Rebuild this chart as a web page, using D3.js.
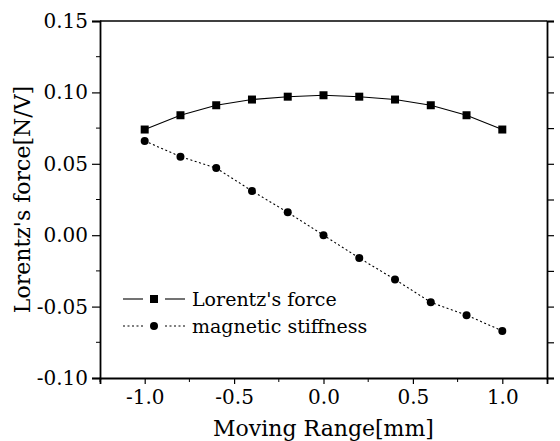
<!DOCTYPE html>
<html>
<head>
<meta charset="utf-8">
<script src="https://cdn.jsdelivr.net/npm/d3@7"></script>
<style>
  body { margin: 0; background: #fff; }
  svg text { font-family: "DejaVu Serif", serif; fill: #000; }
</style>
</head>
<body>
<div id="chart"></div>
<script>
// data
var positions = [-1.0, -0.8, -0.6, -0.4, -0.2, 0.0, 0.2, 0.4, 0.6, 0.8, 1.0];
var lorentzForce = [0.074, 0.084, 0.091, 0.095, 0.097, 0.098, 0.097, 0.095, 0.091, 0.084, 0.074];
var magneticStiffness = [0.066, 0.055, 0.047, 0.031, 0.016, 0.0, -0.016, -0.031, -0.047, -0.056, -0.067];
var xTicks = [-1.0, -0.5, 0.0, 0.5, 1.0];
var yTicks = [-0.10, -0.05, 0.00, 0.05, 0.10, 0.15];
var xMinor = [-1.25, -0.75, -0.25, 0.25, 0.75];
var yMinor = [-0.075, -0.025, 0.025, 0.075, 0.125];

var W = 560, H = 441;
var margin = { top: 21, right: 13, bottom: 63, left: 100 };
var serif = "'DejaVu Serif', serif";

var svg = d3.select("#chart").append("svg")
    .attr("width", W)
    .attr("height", H);

var x = d3.scaleLinear().domain([-1.25, 1.25]).range([margin.left, W - margin.right]);
var y = d3.scaleLinear().domain([-0.10, 0.15]).range([H - margin.bottom, margin.top]);

// bottom axis
var xAxis = svg.append("g")
    .attr("transform", "translate(0," + y(-0.10) + ")")
    .call(d3.axisBottom(x).tickValues(xTicks).tickSize(6).tickPadding(6)
        .tickFormat(function (d) { return d.toFixed(1); }));
xAxis.append("g").selectAll("line").data(xMinor).enter().append("line")
    .attr("x1", function (d) { return x(d); }).attr("x2", function (d) { return x(d); })
    .attr("y1", 0).attr("y2", 4).attr("stroke", "#000");

// left axis
var yAxis = svg.append("g")
    .attr("transform", "translate(" + x(-1.25) + ",0)")
    .call(d3.axisLeft(y).tickValues(yTicks).tickSize(8).tickPadding(4)
        .tickFormat(function (d) { return d.toFixed(2); }));
yAxis.append("g").selectAll("line").data(yMinor).enter().append("line")
    .attr("y1", function (d) { return y(d); }).attr("y2", function (d) { return y(d); })
    .attr("x1", 0).attr("x2", -4).attr("stroke", "#000");

// right axis, ticks only
svg.append("g")
    .attr("transform", "translate(" + x(1.25) + ",0)")
    .call(d3.axisRight(y).tickValues(yTicks.concat(yMinor)).tickSize(7).tickFormat(""));

// top line
svg.append("line")
    .attr("x1", x(-1.25)).attr("x2", x(1.25))
    .attr("y1", y(0.15)).attr("y2", y(0.15))
    .attr("stroke", "#000").attr("stroke-width", 1.6);

svg.selectAll(".domain").attr("stroke-width", 1.8);
svg.selectAll(".tick line").attr("stroke-width", 1.2);
svg.selectAll(".tick text").style("font-size", "20px").style("font-family", serif);

// axis titles
svg.append("text")
    .attr("x", x(0))
    .attr("y", 436)
    .attr("text-anchor", "middle")
    .style("font-family", serif)
    .style("font-size", "22px")
    .text("Moving Range[mm]");

svg.append("text")
    .attr("transform", "translate(30," + y(0.025) + ") rotate(-90)")
    .attr("text-anchor", "middle")
    .style("font-family", serif)
    .style("font-size", "22px")
    .text("Lorentz's force[N/V]");

// series
var lineGen = d3.line()
    .x(function (d) { return x(d[0]); })
    .y(function (d) { return y(d[1]); });

var lfData = positions.map(function (p, i) { return [p, lorentzForce[i]]; });
var msData = positions.map(function (p, i) { return [p, magneticStiffness[i]]; });

svg.append("path")
    .datum(lfData)
    .attr("d", lineGen)
    .attr("fill", "none")
    .attr("stroke", "#000")
    .attr("stroke-width", 1.1);

svg.append("path")
    .datum(msData)
    .attr("d", lineGen)
    .attr("fill", "none")
    .attr("stroke", "#000")
    .attr("stroke-width", 1.1)
    .attr("stroke-dasharray", "2,2.5");

var sq = 8;
svg.append("g").selectAll("rect").data(lfData).enter().append("rect")
    .attr("x", function (d) { return x(d[0]) - sq / 2; })
    .attr("y", function (d) { return y(d[1]) - sq / 2; })
    .attr("width", sq).attr("height", sq)
    .attr("fill", "#000");

svg.append("g").selectAll("circle").data(msData).enter().append("circle")
    .attr("cx", function (d) { return x(d[0]); })
    .attr("cy", function (d) { return y(d[1]); })
    .attr("r", 4)
    .attr("fill", "#000");

// legend
var legend = [
    { name: "Lorentz's force", dash: null, shape: "square", y: 299 },
    { name: "magnetic stiffness", dash: "2,2.5", shape: "circle", y: 326 }
];
legend.forEach(function (l) {
    var g = svg.append("g");
    [[123, 143], [165, 185]].forEach(function (seg) {
        g.append("line")
            .attr("x1", seg[0]).attr("x2", seg[1])
            .attr("y1", l.y).attr("y2", l.y)
            .attr("stroke", "#000").attr("stroke-width", 1.1)
            .attr("stroke-dasharray", l.dash);
    });
    if (l.shape == "square") {
        g.append("rect").attr("x", 154 - sq / 2).attr("y", l.y - sq / 2)
            .attr("width", sq).attr("height", sq).attr("fill", "#000");
    } else {
        g.append("circle").attr("cx", 154).attr("cy", l.y).attr("r", 4).attr("fill", "#000");
    }
    g.append("text")
        .attr("x", 192).attr("y", l.y)
        .attr("dy", "0.35em")
        .style("font-family", serif)
        .style("font-size", "19px")
        .text(l.name);
});
</script>
</body>
</html>
